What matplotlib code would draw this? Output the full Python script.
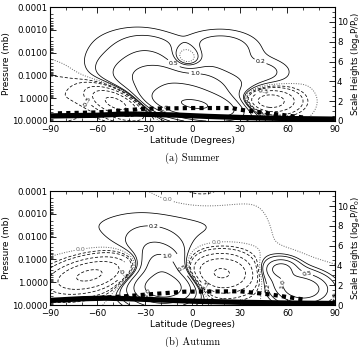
import numpy as np
import matplotlib
matplotlib.use("Agg")
import matplotlib.pyplot as plt
from matplotlib.ticker import FixedLocator, LogLocator, NullFormatter

# contour cells: latitude, height (scale heights), strength, widths, tilt
summer_lat = [2, -8, -30, 18, -4, 45, -48, 48, -85, -60, 90]
summer_z = [1.6, 3.8, 6.8, 7.2, 6.0, 5.0, 1.8, 2.0, 2.5, 8.0, 2.0]
summer_amp = [5.0, 1.8, 0.35, 0.35, -0.55, 0.22, -2.5, -1.6, -0.2, 0.08, 0.05]
summer_wlat = [16, 24, 14, 16, 7, 12, 9, 11, 20, 30, 10]
summer_wz = [0.9, 1.4, 1.4, 1.3, 1.0, 0.9, 1.0, 0.8, 2.2, 2.5, 2.0]
summer_tilt = [-8, -6, 0, 0, 0, 0, -6, 0, 0, 0, 0]

autumn_lat = [-65, -18, -22, -20, 18, 60, 56, 70, -20, 5, 70]
autumn_z = [3.0, 1.8, 5.0, 4.0, 3.2, 2.6, 3.7, 1.6, 8.0, 11.8, 8.5]
autumn_amp = [-2.3, 3.0, 0.6, 0.8, -2.2, 0.6, 1.0, 1.3, 0.12, -0.14, -0.09]
autumn_wlat = [14, 13, 12, 8, 13, 12, 6, 10, 60, 18, 25]
autumn_wz = [1.1, 1.1, 1.5, 0.9, 1.2, 1.3, 0.6, 0.9, 2.0, 1.4, 2.2]
autumn_tilt = [6, 0, -2, 0, 0, -5, 0, 0, 0, 0, 0]

# thick lines near the bottom (pressure in mb)
summer_solid_lat = [-90, -60, -45, -35, -10, 10, 30, 60, 90]
summer_solid_p = [6.0, 5.6, 5.0, 5.0, 5.5, 6.3, 7.0, 7.8, 8.3]
summer_dash_lat = [-85, -60, -40, -30, 0, 25, 30, 45, 60, 70]
summer_dash_p = [4.6, 4.2, 3.3, 2.9, 2.7, 2.7, 3.2, 4.3, 5.8, 7.0]

autumn_solid_lat = [-90, -70, -55, -40, -20, 0, 30, 60, 90]
autumn_solid_p = [6.3, 5.3, 5.0, 5.3, 6.0, 6.8, 7.6, 8.2, 8.6]
autumn_dash_lat = [-80, -60, -40, -25, -5, 30, 50, 72]
autumn_dash_p = [6.0, 5.0, 4.0, 3.3, 2.6, 2.5, 3.5, 6.0]

neg_levels = [-2.0, -1.0, -0.5, -0.2, -0.1]
pos_levels = [0.1, 0.2, 0.5, 1.0, 2.0, 5.0]

p_ticks = [1e-4, 1e-3, 1e-2, 1e-1, 1.0, 10.0]
p_labels = ["0.0001", "0.0010", "0.0100", "0.1000", "1.0000", "10.0000"]
lat_ticks = [-90, -60, -30, 0, 30, 60, 90]
zmax = np.log(1e5)

plt.rcParams["font.family"] = "DejaVu Sans"
plt.rcParams["font.size"] = 6

lat = np.linspace(-90, 90, 361)
zz = np.linspace(0, zmax, 300)
LAT, Z = np.meshgrid(lat, zz)
P = 10.0 * np.exp(-Z)


def field(lats, zs, amps, wl, wz, tilt):
    F = np.zeros_like(LAT)
    for a, b, c, d, e, t in zip(lats, zs, amps, wl, wz, tilt):
        dl = LAT - a - t * (Z - b)
        F += c * np.exp(-0.5 * ((dl / d) ** 2 + ((Z - b) / e) ** 2))
    return F


def panel(ax, F, solid_lat, solid_p, dash_lat, dash_p, caption, lab_levels):
    cn = ax.contour(LAT, P, F, levels=neg_levels, colors="k", linewidths=0.55,
                    linestyles=[(0, (4, 2.5))])
    c0 = ax.contour(LAT, P, F, levels=[0.0], colors="0.4", linewidths=0.7,
                    linestyles=[(0, (1, 1.5))])
    cp = ax.contour(LAT, P, F, levels=pos_levels, colors="k", linewidths=0.55,
                    linestyles="solid")
    for cs in (cn, c0, cp):
        lv = [l for l in cs.levels if l in lab_levels]
        if lv:
            ax.clabel(cs, levels=lv, fmt="%.1f", fontsize=4.5, inline=True,
                      inline_spacing=1)
    ax.plot(solid_lat, solid_p, color="k", lw=3.8, solid_capstyle="butt")
    ax.plot(dash_lat, dash_p, color="k", lw=3.0, ls=(0, (1, 1)))

    ax.set_yscale("log")
    ax.set_ylim(10.0, 1e-4)
    ax.set_xlim(-90, 90)
    ax.yaxis.set_major_locator(FixedLocator(p_ticks))
    ax.set_yticklabels(p_labels)
    ax.yaxis.set_minor_locator(LogLocator(base=10, subs=np.arange(2, 10)))
    ax.yaxis.set_minor_formatter(NullFormatter())
    ax.set_xticks(lat_ticks)
    ax.set_xticklabels(["\u221290", "\u221260", "\u221230", "0", "30", "60", "90"])
    ax.set_xticks(np.arange(-90, 91, 10), minor=True)
    ax.tick_params(which="both", direction="in", top=True, labelsize=6.2)
    ax.tick_params(axis="x", pad=3)
    ax.tick_params(axis="y", pad=1.5)
    ax.tick_params(which="major", length=4, width=0.6)
    ax.tick_params(which="minor", length=2, width=0.5)
    ax.set_xlabel("Latitude (Degrees)", fontsize=6.5, labelpad=1)
    ax.set_ylabel("Pressure (mb)", fontsize=6.5, labelpad=1)
    for s in ax.spines.values():
        s.set_linewidth(0.7)

    ax2 = ax.twinx()
    ax2.set_ylim(0, zmax)
    ax2.set_yticks([0, 2, 4, 6, 8, 10])
    ax2.set_yticks(np.arange(0, 11.6, 0.5), minor=True)
    ax2.tick_params(which="both", direction="in", labelsize=6.2, pad=1.5)
    ax2.tick_params(which="major", length=4, width=0.6)
    ax2.tick_params(which="minor", length=2, width=0.5)
    ax2.set_ylabel("Scale Heights (log$_e$P/P$_0$)", fontsize=6.2, labelpad=1)

    ax.text(0.5, -0.325, caption, transform=ax.transAxes, ha="center", va="center",
            fontsize=7.5, family="cmr10")


fig = plt.figure(figsize=(3.63, 3.47), dpi=100)
ax_a = fig.add_axes([0.1377, 0.6513, 0.785, 0.3285])
ax_b = fig.add_axes([0.1377, 0.121, 0.785, 0.3285])

Fa = field(summer_lat, summer_z, summer_amp, summer_wlat, summer_wz, summer_tilt)
Fb = field(autumn_lat, autumn_z, autumn_amp, autumn_wlat, autumn_wz, autumn_tilt)

panel(ax_a, Fa, summer_solid_lat, summer_solid_p, summer_dash_lat, summer_dash_p,
      "(a) Summer", [0.2, 0.5, 1.0, 2.0, -0.5])
panel(ax_b, Fb, autumn_solid_lat, autumn_solid_p, autumn_dash_lat, autumn_dash_p,
      "(b) Autumn", [0.0, 0.2, 0.5, 1.0, 2.0, -0.5])

fig.savefig("out.png", dpi=100)
